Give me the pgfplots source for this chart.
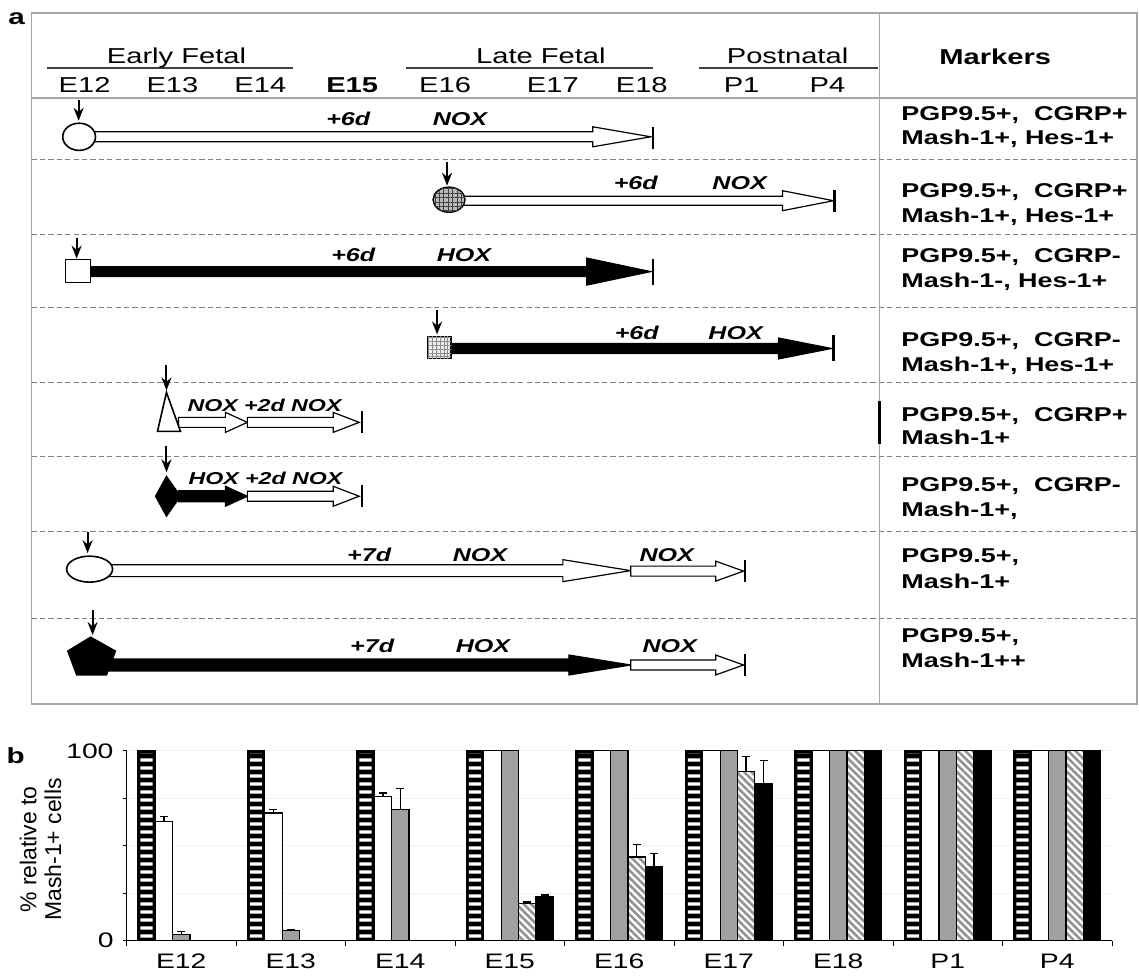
\documentclass[border=0pt]{standalone}
\usepackage{fontspec}
\setmainfont{Liberation Sans}[FakeStretch=1.35]
\newfontfamily\plainsans{Liberation Sans}
\usepackage{pgfplots}
\pgfplotsset{compat=1.18}
\usetikzlibrary{arrows.meta,patterns.meta}
\definecolor{bgray}{RGB}{160,160,160}
\newcommand{\fs}[1]{\fontsize{#1}{#1}\selectfont}
% x0, xh, x1, yc, t, h, style
\newcommand{\arr}[7]{%
\draw[#7] (axis cs:#1,{#4-#5}) -- (axis cs:#2,{#4-#5}) -- (axis cs:#2,{#4-#6}) -- (axis cs:#3,#4) -- (axis cs:#2,{#4+#6}) -- (axis cs:#2,{#4+#5}) -- (axis cs:#1,{#4+#5}) -- cycle;}
\newcommand{\stopbar}[3]{\draw[line width=1.1pt] (axis cs:#1,#2) -- (axis cs:#1,#3);}
\newcommand{\dnarr}[3]{\draw[line width=1pt,-{Stealth[length=6.5pt,width=5pt]}] (axis cs:#1,#2) -- (axis cs:#1,#3);}
\tikzset{open/.style={draw=black,fill=white,line width=0.6pt},
         solid/.style={draw=black,fill=black,line width=0.6pt},
         lab/.style={font=\bfseries\itshape\fs{9.3},anchor=base},
         mk/.style={font=\bfseries\fs{10},anchor=base west}}
\begin{document}
\begin{tikzpicture}
\begin{axis}[at={(0,0)}, anchor=south west, scale only axis, width=569.5pt, height=486pt,
  xmin=0, xmax=1139, ymin=0, ymax=972, y dir=reverse, hide axis, clip=false]
\path (axis cs:0,0) rectangle (axis cs:1139,972);
\node[font=\bfseries\fs{11}] at (axis cs:15,19) {a};
\node[font=\bfseries\fs{11}] at (axis cs:14,757) {b};
% frame
\draw[gray!70, line width=0.7pt] (axis cs:30,13) rectangle (axis cs:1137,705);
\draw[gray!70, line width=0.7pt] (axis cs:30,98) -- (axis cs:1137,98);
\draw[gray!70, line width=0.7pt] (axis cs:879,13) -- (axis cs:879,705);
\pgfplotsinvokeforeach{160,235,308,383,457,532,619}{
  \draw[gray, line width=0.5pt, dash pattern=on 2.6pt off 1.6pt] (axis cs:30,#1) -- (axis cs:1137,#1);}
\draw[black, line width=1.5pt] (axis cs:879,402) -- (axis cs:879,445);
% header
\draw[black!75, line width=0.8pt] (axis cs:45,68) -- (axis cs:292,68);
\draw[black!75, line width=0.8pt] (axis cs:405,68) -- (axis cs:652,68);
\draw[black!75, line width=0.8pt] (axis cs:698,68) -- (axis cs:878,68);
\node[anchor=base, font=\fs{10.8}] at (axis cs:175,64) {Early Fetal};
\node[anchor=base, font=\fs{10.8}] at (axis cs:540,64) {Late Fetal};
\node[anchor=base, font=\fs{10.8}] at (axis cs:787,64) {Postnatal};
\node[anchor=base, font=\bfseries\fs{10.8}] at (axis cs:995,65) {Markers};
\node[anchor=base, font=\fs{10.8}] at (axis cs:83,92.5) {E12};
\node[anchor=base, font=\fs{10.8}] at (axis cs:171,92.5) {E13};
\node[anchor=base, font=\fs{10.8}] at (axis cs:259,92.5) {E14};
\node[anchor=base, font=\bfseries\fs{10.8}] at (axis cs:351,92.5) {E15};
\node[anchor=base, font=\fs{10.8}] at (axis cs:444,92.5) {E16};
\node[anchor=base, font=\fs{10.8}] at (axis cs:552,92.5) {E17};
\node[anchor=base, font=\fs{10.8}] at (axis cs:641,92.5) {E18};
\node[anchor=base, font=\fs{10.8}] at (axis cs:741,92.5) {P1};
\node[anchor=base, font=\fs{10.8}] at (axis cs:827,92.5) {P4};
% markers
\node[mk] at (axis cs:894,121) {PGP9.5+,\ \ CGRP+};
\node[mk] at (axis cs:894,145) {Mash-1+, Hes-1+};
\node[mk] at (axis cs:894,198) {PGP9.5+,\ \ CGRP+};
\node[mk] at (axis cs:894,223) {Mash-1+, Hes-1+};
\node[mk] at (axis cs:894,263) {PGP9.5+,\ \ CGRP-};
\node[mk] at (axis cs:894,288) {Mash-1-, Hes-1+};
\node[mk] at (axis cs:894,347) {PGP9.5+,\ \ CGRP-};
\node[mk] at (axis cs:894,372) {Mash-1+, Hes-1+};
\node[mk] at (axis cs:894,422) {PGP9.5+,\ \ CGRP+};
\node[mk] at (axis cs:894,445) {Mash-1+};
\node[mk] at (axis cs:894,492) {PGP9.5+,\ \ CGRP-};
\node[mk] at (axis cs:894,517) {Mash-1+,};
\node[mk] at (axis cs:894,563) {PGP9.5+,};
\node[mk] at (axis cs:894,589) {Mash-1+};
\node[mk] at (axis cs:894,643) {PGP9.5+,};
\node[mk] at (axis cs:894,669) {Mash-1++};
% row 1
\dnarr{77}{100}{121}
\arr{90}{592}{650}{137}{5}{10}{open}
\stopbar{652}{127}{149}
\draw[open, line width=0.8pt] (axis cs:77.5,137) ellipse [x radius=8.2pt, y radius=6.8pt];
\node[lab] at (axis cs:347,126) {+6d};
\node[lab] at (axis cs:459,126) {NOX};
% row 2
\dnarr{446}{162}{186}
\arr{460}{782}{833}{201}{4.5}{10}{open}
\stopbar{834}{190}{212}
\draw[fill=gray!55, draw=black, line width=0.7pt, postaction={pattern={Hatch[distance=2.2pt,line width=0.35pt]}, pattern color=black!75}] (axis cs:448,200) ellipse [x radius=8pt, y radius=6.3pt];
\node[lab] at (axis cs:635,190) {+6d};
\node[lab] at (axis cs:739,190) {NOX};
% row 3
\dnarr{75}{238}{259}
\arr{88}{586}{650}{272}{5}{13.5}{solid}
\stopbar{652}{259}{285}
\draw[open, line width=0.8pt] (axis cs:64,260) rectangle (axis cs:89,283);
\node[lab] at (axis cs:352,262) {+6d};
\node[lab] at (axis cs:463,262) {HOX};
% row 4
\dnarr{436}{310}{335}
\arr{449}{778}{831}{349}{5}{10.5}{solid}
\stopbar{833}{336}{362}
\draw[fill=gray!15, draw=black, line width=0.8pt, postaction={pattern={Hatch[distance=1.9pt,line width=0.3pt]}, pattern color=gray!90}] (axis cs:427,337) rectangle (axis cs:450,359);
\node[lab] at (axis cs:636,340) {+6d};
\node[lab] at (axis cs:735,340) {HOX};
% row 5
\dnarr{165}{366}{391}
\arr{177}{224}{246}{423}{5}{10}{open}
\arr{246}{332}{358}{423}{5}{10}{open}
\stopbar{361}{412}{434}
\draw[open, line width=0.8pt] (axis cs:165,393) -- (axis cs:179,432) -- (axis cs:156,432) -- cycle;
\node[lab, anchor=base west, font=\bfseries\itshape\fs{8.6}] at (axis cs:179,412) {NOX +2d NOX};
% row 6
\dnarr{165}{447}{473}
\arr{177}{224}{246}{497}{5.5}{10}{solid}
\arr{246}{332}{358}{497}{5}{10}{open}
\stopbar{361}{486}{508}
\draw[solid] (axis cs:165,477) -- (axis cs:179,497) -- (axis cs:165,517) -- (axis cs:154,497) -- cycle;
\node[lab, anchor=base west, font=\bfseries\itshape\fs{8.6}] at (axis cs:180,485) {HOX +2d NOX};
% row 7
\dnarr{86}{533}{554}
\arr{105}{562}{630}{571.5}{6}{11}{open}
\arr{630}{715}{743}{572}{5}{10}{open}
\stopbar{744}{561}{583}
\draw[open, line width=0.8pt] (axis cs:88,570) ellipse [x radius=11.5pt, y radius=6.5pt];
\node[lab] at (axis cs:368,562) {+7d};
\node[lab] at (axis cs:479,562) {NOX};
\node[lab] at (axis cs:666,562) {NOX};
% row 8
\dnarr{91}{611}{636}
\arr{105}{568}{630}{666}{6}{10}{solid}
\arr{630}{715}{743}{666}{5}{10}{open}
\stopbar{744}{655}{677}
\draw[solid] (axis cs:89,638) -- (axis cs:114,652) -- (axis cs:105,676) -- (axis cs:75,676) -- (axis cs:66,652) -- cycle;
\node[lab] at (axis cs:371,653) {+7d};
\node[lab] at (axis cs:482,653) {HOX};
\node[lab] at (axis cs:669,653) {NOX};
\end{axis}

\begin{axis}[at={(62.5pt,15pt)}, anchor=south west, scale only axis, width=493.5pt, height=95pt,
  ybar, bar width=8.7pt,
  xmin=-0.5, xmax=8.5, ymin=0, ymax=100,
  axis lines=left, axis line style={-, black, line width=0.6pt},
  xtick={0,...,8}, xticklabels={E12,E13,E14,E15,E16,E17,E18,P1,P4},
  major x tick style={draw=none},
  minor xtick={-0.5,0.5,...,8.5}, minor tick length=2.5pt,
  ytick={0,25,50,75,100}, yticklabels={\mbox{0},{},{},{},\mbox{100}},
  ymajorgrids, grid style={gray!12, line width=0.5pt},
  tick align=outside, major tick length=2pt,
  tick style={black, line width=0.5pt},
  ticklabel style={font=\fs{10.5}},
  yticklabel style={xshift=-1pt},
  xticklabel style={yshift=-1pt},
  ylabel={\plainsans\fontsize{11.5}{12.5}\selectfont\setlength{\tabcolsep}{0pt}\begin{tabular}{c}\% relative to\\Mash-1+ cells\end{tabular}},
  ylabel style={at={(axis description cs:-0.084,0.48)}, anchor=center, inner sep=0pt},
  error bars/error bar style={line width=0.7pt, black},
  error bars/error mark options={line width=0.7pt, black, mark size=2pt, rotate=90},
  clip=false]
% striped series: black bar with white stripes
\addplot[bar shift=-17.4pt, fill=black, draw=black, line width=0.5pt] coordinates {(0,100) (1,100) (2,100) (3,100) (4,100) (5,100) (6,100) (7,100) (8,100)};
\addplot[bar shift=-17.4pt, bar width=6.2pt, draw=none, pattern={Lines[angle=0,distance=4pt,line width=1.7pt]}, pattern color=white] coordinates {(0,98.5) (1,98.5) (2,98.5) (3,98.5) (4,98.5) (5,98.5) (6,98.5) (7,98.5) (8,98.5)};
% white
\addplot[bar shift=-8.7pt, fill=white, draw=black, line width=0.6pt,
  error bars/.cd, y dir=plus, y explicit] coordinates {
  (0,62.8) +- (0,2.6) (1,67.2) +- (0,1.8) (2,76) +- (0,1.8)
  (3,100) (4,100) (5,100) (6,100) (7,100) (8,100)};
% gray
\addplot[bar shift=0pt, fill=bgray, draw=black, line width=0.6pt,
  error bars/.cd, y dir=plus, y explicit] coordinates {
  (0,3) +- (0,1.7) (1,5.5) +- (0,0) (2,69) +- (0,11)
  (3,100) (4,100) (5,100) (6,100) (7,100) (8,100)};
% hatched
\addplot[bar shift=8.7pt, preaction={fill=white}, pattern={Lines[angle=-45,distance=2.6pt,line width=1.3pt]}, pattern color=gray!85, draw=black, line width=0.6pt,
  error bars/.cd, y dir=plus, y explicit] coordinates {
  (3,19.5) +- (0,0.9) (4,44) +- (0,6.5) (5,89) +- (0,8)
  (6,100) (7,100) (8,100)};
% black
\addplot[bar shift=17.4pt, fill=black, draw=black, line width=0.6pt,
  error bars/.cd, y dir=plus, y explicit] coordinates {
  (3,23.4) +- (0,0.7) (4,39) +- (0,7) (5,83) +- (0,12)
  (6,100) (7,100) (8,100)};
\end{axis}
\end{tikzpicture}
\end{document}
